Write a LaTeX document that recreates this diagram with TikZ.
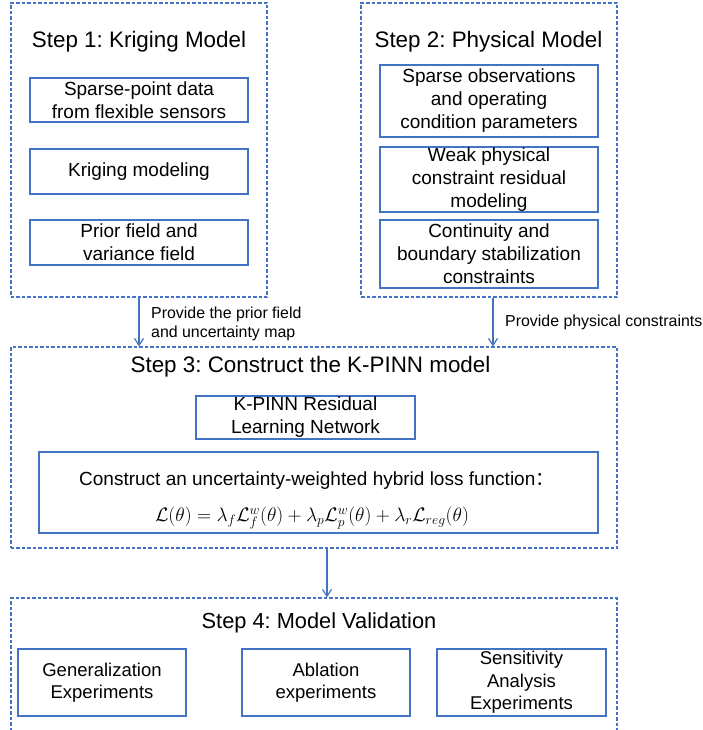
\RequirePackage{fix-cm}
\documentclass[tikz,border=0pt]{standalone}
\usepackage{fontspec}
\setmainfont{Liberation Sans}
\newfontfamily\cjk{Noto Sans CJK SC}
\usetikzlibrary{arrows.meta}
\definecolor{kblue}{HTML}{4472C4}
\frenchspacing
\begin{document}
\begin{tikzpicture}[x=1bp,y=-1bp,
  outer/.style={draw=kblue,line width=1.1bp,dash pattern=on 3.5bp off 2bp,inner sep=0pt},
  inbox/.style={draw=kblue,line width=1.4bp,inner sep=0pt,align=center,text=black,font=\fontsize{19bp}{23bp}\selectfont},
  vbox/.style={inbox,font=\fontsize{18.5bp}{22.5bp}\selectfont},
  steptitle/.style={inner sep=0pt,font=\fontsize{22.4bp}{27bp}\selectfont},
  lab/.style={inner sep=0pt,align=left,font=\fontsize{15.9bp}{18.5bp}\selectfont},
  plain/.style={inner sep=0pt,font=\fontsize{19bp}{23bp}\selectfont},
  arr/.style={draw=kblue,line width=1.2bp,-{Straight Barb[length=7bp,width=9bp]}}
]
\useasboundingbox (0,0) rectangle (703,730);
\fill[white] (0,0) rectangle (703,730);

% Step 1
\node[outer,minimum width=256bp,minimum height=294bp] (s1) at (139,150) {};
\node[steptitle] (t1) at (139,42) {Step 1: Kriging Model};
\node[inbox,minimum width=218bp,minimum height=44bp] (b11) at (139,100) {Sparse-point data\\from flexible sensors};
\node[inbox,minimum width=218bp,minimum height=45bp] (b12) at (139,171.5) {Kriging modeling};
\node[inbox,minimum width=218bp,minimum height=45bp] (b13) at (139,242.5) {Prior field and\\variance field};

% Step 2
\node[outer,minimum width=256bp,minimum height=294bp] (s2) at (489,150) {};
\node[steptitle] (t2) at (488.5,42) {Step 2: Physical Model};
\node[inbox,minimum width=218bp,minimum height=72bp] (b21) at (489,101) {Sparse observations\\and operating\\condition parameters};
\node[inbox,minimum width=218bp,minimum height=65bp] (b22) at (489,179.5) {Weak physical\\constraint residual\\modeling};
\node[inbox,minimum width=218bp,minimum height=68bp] (b23) at (489,254) {Continuity and\\boundary stabilization\\constraints};

% Step 3
\node[outer,minimum width=606bp,minimum height=201bp] (s3) at (314,447.5) {};
\node[steptitle] (t3) at (310.5,367) {Step 3: Construct the K-PINN model};
\node[inbox,minimum width=219bp,minimum height=43bp] (kp) at (305.5,417.5) {K-PINN Residual\\Learning Network};
\node[inbox,minimum width=559bp,minimum height=81bp] (loss) at (318.5,492.5) {};
\node[plain,anchor=west] (lt) at (79,481) {Construct an uncertainty-weighted hybrid loss function{\cjk ：}};
\node[plain,font=\fontsize{19.5bp}{23bp}\selectfont] (lf) at (312,518) {$\mathcal{L}(\theta)=\lambda_f\mathcal{L}_f^w(\theta)+\lambda_p\mathcal{L}_p^w(\theta)+\lambda_r\mathcal{L}_{reg}(\theta)$};

% Step 4
\node[outer,minimum width=606bp,minimum height=138bp] (s4) at (314,667) {};
\node[steptitle,font=\fontsize{21.8bp}{26bp}\selectfont] (t4) at (319,623) {Step 4: Model Validation};
\node[vbox,minimum width=168bp,minimum height=67bp] (v1) at (102,682.5) {Generalization\\Experiments};
\node[vbox,minimum width=168bp,minimum height=67bp] (v2) at (326,682.5) {Ablation\\experiments};
\node[vbox,minimum width=169bp,minimum height=67bp] (v3) at (521.5,682.5) {Sensitivity\\Analysis\\Experiments};

% Arrows
\draw[arr] (s1.south) -- (s1.south |- s3.north);
\coordinate (a2s) at ([xshift=4bp]s2.south);
\draw[arr] (a2s) -- (a2s |- s3.north);
\coordinate (a3s) at ([xshift=13bp]s3.south);
\draw[arr] (a3s) -- (a3s |- s4.north);

% Labels
\node[lab,anchor=west] (l1) at (151,324) {Provide the prior field\\and uncertainty map};
\node[lab,anchor=west] (l2) at (505,322) {Provide physical constraints};
\end{tikzpicture}
\end{document}
